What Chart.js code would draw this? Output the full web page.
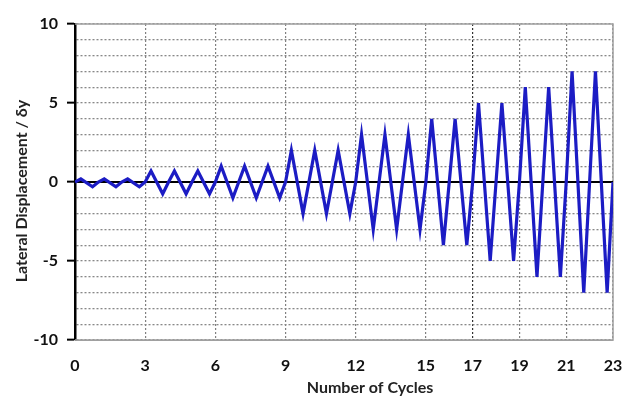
<!DOCTYPE html>
<html>
<head>
  <meta charset="UTF-8">
  <title>Lateral Displacement vs Cycles</title>
  <script src="https://cdn.jsdelivr.net/npm/chart.js"></script>
  <style>
    body { margin: 0; background: #fff; }
  </style>
</head>
<body>
  <canvas id="cycleChart" width="622" height="396"></canvas>

  <script>
    // cycle positions (x) and displacement / δy
    const cycleX = [
      0, 0.25, 0.75, 1, 1.25, 1.75, 2, 2.25, 2.75,
      3, 3.25, 3.75, 4, 4.25, 4.75, 5, 5.25, 5.75,
      6, 6.25, 6.75, 7, 7.25, 7.75, 8, 8.25, 8.75,
      9, 9.25, 9.75, 10, 10.25, 10.75, 11, 11.25, 11.75,
      12, 12.25, 12.75, 13, 13.25, 13.75, 14, 14.25, 14.75,
      15, 15.25, 15.75, 16, 16.25, 16.75,
      17, 17.25, 17.75, 18, 18.25, 18.75,
      19, 19.25, 19.75, 20, 20.25, 20.75,
      21, 21.25, 21.75, 22, 22.25, 22.75,
      23
    ];
    const displacement = [
      0, 0.2, -0.3, 0, 0.2, -0.3, 0, 0.2, -0.3,
      0, 0.7, -0.75, 0, 0.7, -0.75, 0, 0.7, -0.75,
      0, 1, -1, 0, 1, -1, 0, 1, -1,
      0, 2, -2, 0, 2, -2, 0, 2, -2,
      0, 3, -3, 0, 3, -3, 0, 3, -3,
      0, 4, -4, 0, 4, -4,
      0, 5, -5, 0, 5, -5,
      0, 6, -6, 0, 6, -6,
      0, 7, -7, 0, 7, -7,
      0
    ];
    const xTickValues = [0, 3, 6, 9, 12, 15, 17, 19, 21, 23];
    const zeroLineX = [0, 23];
    const xTitle = 'Number of Cycles';
    const yTitle = 'Lateral Displacement / δy';

    const points = cycleX.map((x, i) => ({ x: x, y: displacement[i] }));
    const zeroPoints = zeroLineX.map(x => ({ x: x, y: 0 }));

    const font = 'Lato';

    // gray frame on top / right / bottom of the plot area
    const framePlugin = {
      id: 'frame',
      beforeDatasetsDraw(chart) {
        const { ctx, chartArea: a } = chart;
        ctx.save();
        ctx.strokeStyle = '#a0a0a0';
        ctx.lineWidth = 1.5;
        ctx.beginPath();
        ctx.moveTo(a.left, a.top);
        ctx.lineTo(a.right, a.top);
        ctx.lineTo(a.right, a.bottom);
        ctx.lineTo(a.left, a.bottom);
        ctx.stroke();
        ctx.restore();
      }
    };

    // axis titles (slightly off-centre in the original)
    const titlePlugin = {
      id: 'axisTitles',
      afterDraw(chart) {
        const { ctx, chartArea: a } = chart;
        ctx.save();
        ctx.fillStyle = '#222';
        ctx.font = 'bold 16px ' + font;
        ctx.textAlign = 'center';
        ctx.textBaseline = 'middle';
        ctx.fillText(xTitle, (a.left + a.right) / 2 + 26, 388);
        ctx.translate(22, (a.top + a.bottom) / 2 + 9);
        ctx.rotate(-Math.PI / 2);
        ctx.fillText(yTitle, 0, 0);
        ctx.restore();
      }
    };

    new Chart(document.getElementById('cycleChart').getContext('2d'), {
      type: 'line',
      data: {
        datasets: [
          {
            data: points,
            borderColor: '#1c1cc4',
            borderWidth: 3.2,
            pointRadius: 0,
            tension: 0,
            fill: false,
            order: 0
          },
          {
            data: zeroPoints,
            borderColor: '#000',
            borderWidth: 2,
            pointRadius: 0,
            fill: false,
            order: 1
          }
        ]
      },
      options: {
        responsive: false,
        animation: false,
        layout: { padding: { top: 24, right: 9, left: 0, bottom: 0 } },
        plugins: {
          legend: { display: false },
          tooltip: { enabled: false }
        },
        scales: {
          x: {
            type: 'linear',
            min: 0,
            max: 23,
            afterBuildTicks: (scale) => {
              scale.ticks = xTickValues.map(v => ({ value: v }));
            },
            afterFit: (scale) => {
              scale.height = 56;
              scale.paddingLeft = 0;
              scale.paddingRight = 0;
            },
            ticks: {
              autoSkip: false,
              maxRotation: 0,
              padding: 16,
              color: '#111',
              font: { family: font, size: 16, weight: 'bold' }
            },
            grid: {
              drawTicks: false,
              color: (ctx) => (ctx.tick && ctx.tick.value === 17) ? '#333' : '#808080',
              lineWidth: 1.2
            },
            border: { color: '#a0a0a0', width: 1, dash: [2, 2] }
          },
          y: {
            min: -10,
            max: 10,
            afterFit: (scale) => {
              scale.width = 75;
              scale.paddingTop = 0;
              scale.paddingBottom = 0;
            },
            ticks: {
              stepSize: 1,
              autoSkip: false,
              padding: 9,
              color: '#111',
              font: { family: font, size: 16, weight: 'bold' },
              callback: (v) => (v % 5 === 0 ? v : '')
            },
            grid: {
              color: '#888',
              lineWidth: 1.3,
              tickLength: 8,
              tickWidth: 2,
              tickColor: (ctx) => (ctx.tick && ctx.tick.value % 5 === 0) ? '#000' : 'rgba(0,0,0,0)'
            },
            border: { color: '#000', width: 2.5, dash: [2, 2] }
          }
        }
      },
      plugins: [framePlugin, titlePlugin]
    });
  </script>
</body>
</html>
